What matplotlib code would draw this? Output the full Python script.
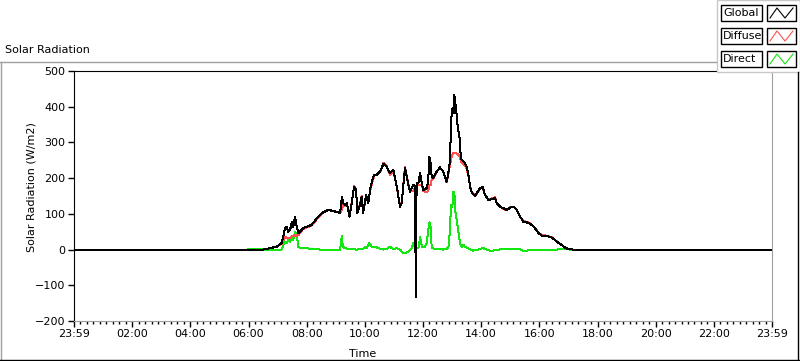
import matplotlib.pyplot as plt
from matplotlib.lines import Line2D
from matplotlib.patches import Rectangle
from matplotlib.ticker import MultipleLocator

# time of day in hours
hours = [0.0, 6.50, 6.74, 6.97, 7.14, 7.26, 7.31, 7.36, 7.43, 7.49, 7.54, 7.60, 7.66, 7.71, 7.77,
         7.88, 8.00, 8.17, 8.35, 8.52, 8.74, 8.92, 9.15, 9.21, 9.26, 9.32, 9.38, 9.47, 9.55,
         9.63, 9.70, 9.74, 9.83, 9.89, 9.94, 10.04, 10.12, 10.18, 10.24, 10.32, 10.41, 10.52,
         10.64, 10.75, 10.87, 10.98, 11.10, 11.21, 11.27, 11.32, 11.38, 11.44, 11.55, 11.67,
         11.73, 11.75, 11.78, 11.84, 11.90, 11.96, 12.01, 12.13, 12.18, 12.22, 12.26, 12.30,
         12.35, 12.47, 12.58, 12.70, 12.81, 12.87, 12.93, 12.96, 12.99, 13.02, 13.05, 13.07,
         13.08, 13.10, 13.14, 13.16, 13.21, 13.25, 13.30, 13.33, 13.39, 13.44, 13.50, 13.56,
         13.62, 13.68, 13.79, 13.85, 13.96, 14.05, 14.13, 14.25, 14.36, 14.48, 14.53, 14.65,
         14.76, 14.88, 14.99, 15.11, 15.22, 15.34, 15.45, 15.62, 15.74, 15.85, 15.97, 16.08,
         16.25, 16.42, 16.54, 16.65, 16.77, 16.88, 17.00, 17.17, 24.0]

global_rad = [0, 0, 4, 8, 18, 60, 64, 50, 55, 78, 64, 92, 64, 46, 50,
              60, 64, 69, 88, 102, 111, 108, 102, 148, 130, 125, 130, 92, 130,
              176, 167, 102, 125, 148, 102, 153, 130, 167, 190, 209, 209, 218,
              240, 232, 214, 223, 176, 120, 130, 176, 228, 204, 162, 181,
              178, -132, 186, 186, 214, 186, 167, 172, 195, 260, 242, 204,
              200, 218, 230, 218, 190, 214, 251, 344, 386, 396, 382, 419,
              433, 410, 400, 368, 335, 321, 260, 251, 246, 242, 232, 209,
              176, 158, 150, 158, 172, 176, 153, 139, 141, 144, 130, 120,
              116, 111, 117, 120, 111, 92, 78, 75, 69, 60, 46, 39,
              38, 34, 27, 19, 13, 6, 1, 0, 0]

diffuse_rad = [0, 0, 4, 8, 16, 35, 34, 32, 33, 38, 37, 41, 38, 40, 46,
               58, 62, 67, 85, 100, 112, 108, 102, 112, 125, 123, 129, 94, 132,
               178, 165, 105, 127, 150, 103, 148, 132, 164, 182, 207, 210, 216,
               242, 234, 208, 222, 174, 122, 130, 180, 232, 206, 165, 165,
               176, 178, 180, 182, 182, 180, 165, 160, 165, 182, 180, 198,
               198, 218, 230, 218, 188, 210, 237, 250, 262, 268, 270, 270,
               271, 270, 270, 268, 266, 262, 250, 244, 238, 236, 226, 206,
               176, 160, 152, 157, 170, 174, 153, 140, 143, 146, 130, 121,
               114, 110, 118, 120, 112, 92, 80, 76, 70, 60, 48, 41,
               39, 35, 27, 20, 13, 6, 1, 0, 0]

direct_hours = [0.0, 5.98, 6.02, 6.50, 6.57, 7.14, 7.20, 7.26, 7.31, 7.37, 7.43, 7.49, 7.54, 7.60,
                7.66, 7.71, 7.77, 8.35, 8.46, 9.15, 9.21, 9.24, 9.32, 9.49, 9.72, 9.94, 10.00,
                10.06, 10.15, 10.24, 10.41, 10.52, 10.64, 10.75, 10.87, 10.98, 11.10, 11.21,
                11.32, 11.38, 11.50, 11.61, 11.67, 11.73, 11.84, 11.90, 11.96, 12.07, 12.13,
                12.18, 12.22, 12.26, 12.30, 12.47, 12.70, 12.87, 12.93, 12.96, 13.01, 13.04,
                13.08, 13.11, 13.16, 13.19, 13.24, 13.27, 13.33, 13.39, 13.44, 13.62, 13.73,
                13.89, 14.07, 14.19, 14.30, 14.42, 14.53, 15.11, 15.34, 15.44, 16.92, 17.05,
                24.0]

direct_rad = [0, 0, 2, 2, 0, 0, 13, 22, 18, 27, 22, 36, 27, 50,
              41, 8, 4, 2, 0, 0, 38, 8, 4, 1, 0, 1, 6,
              4, 18, 8, 6, 2, 0, 2, 8, 1, 4, 0,
              -10, -10, -6, 4, 18, 4, 4, 34, 8, 8, 18,
              55, 76, 64, 4, 1, 0, 4, 55, 125, 120, 162,
              158, 106, 83, 64, 36, 18, 8, 13, 8, 1, -3,
              0, 4, 0, -3, -3, 0, 1, 1, -3, 1, 0,
              0]

tick_labels = ['23:59', '02:00', '04:00', '06:00', '08:00', '10:00', '12:00',
               '14:00', '16:00', '18:00', '20:00', '22:00', '23:59']

W, H = 800, 361
plt.rcParams['font.family'] = ['DejaVu Sans']
fig = plt.figure(figsize=(W / 100, H / 100), dpi=100)


def fx(x):
    return x / W


def fy(y):
    return 1 - y / H


ax = fig.add_axes([fx(74), fy(321), fx(772) - fx(74), fy(71) - fy(321)])

ax.plot(direct_hours, direct_rad, color='#14e614', lw=0.72, antialiased=False)
ax.plot(hours, diffuse_rad, color='#ff5050', lw=0.72, antialiased=False)
ax.plot(hours, global_rad, color='black', lw=0.72, antialiased=False)

ax.set_xlim(0, 24)
ax.set_ylim(-200, 500)
ax.set_xticks(range(0, 25, 2))
ax.set_xticklabels(tick_labels)
ax.xaxis.set_minor_locator(MultipleLocator(2 / 9))
ax.set_yticks(range(-200, 501, 100))
ax.tick_params(axis='both', which='major', labelsize=8, length=4, width=1, pad=2,
               color='black')
ax.tick_params(axis='x', which='minor', length=2, width=1, color='black')

for s in ['left', 'top']:
    ax.spines[s].set_color('black')
for s in ['bottom', 'right']:
    ax.spines[s].set_color('#a0a0a0')

fig.text(fx(32), fy(187), 'Solar Radiation (W/m2)', rotation=90, fontsize=8,
         ha='center', va='center')
fig.text(fx(363), fy(354), 'Time', fontsize=8, ha='center', va='center')
fig.text(fx(5), fy(50), 'Solar Radiation', fontsize=8, ha='left', va='center')

# outer frame
fig.add_artist(Line2D([fx(0), fx(716)], [fy(61.5), fy(61.5)], color='#a0a0a0', lw=1))
fig.add_artist(Line2D([fx(1), fx(1)], [fy(61.5), fy(360)], color='#a0a0a0', lw=1))
fig.add_artist(Line2D([fx(0), fx(800)], [fy(359.5), fy(359.5)], color='black', lw=1))
fig.add_artist(Line2D([fx(798), fx(798)], [fy(72), fy(360)], color='black', lw=1))

# legend panel
fig.add_artist(Rectangle((fx(717), fy(72)), fx(83), fy(0) - fy(72), facecolor='white',
                         edgecolor='#c8c8c8', lw=1))
names = ['Global', 'Diffuse', 'Direct']
colors = ['black', '#ff5050', '#14e614']
for i, (name, c) in enumerate(zip(names, colors)):
    top = 5 + 23 * i
    fig.add_artist(Rectangle((fx(721), fy(top + 16)), fx(41), fy(top) - fy(top + 16),
                             facecolor='white', edgecolor='black', lw=1))
    fig.add_artist(Rectangle((fx(767), fy(top + 16)), fx(29), fy(top) - fy(top + 16),
                             facecolor='white', edgecolor='black', lw=1))
    fig.text(fx(723), fy(top + 8), name, fontsize=8, ha='left', va='center')
    fig.add_artist(Line2D([fx(770), fx(777), fx(785), fx(793)],
                          [fy(top + 13), fy(top + 3), fy(top + 13), fy(top + 3)],
                          color=c, lw=0.8))

fig.savefig('out.png', dpi=100)
